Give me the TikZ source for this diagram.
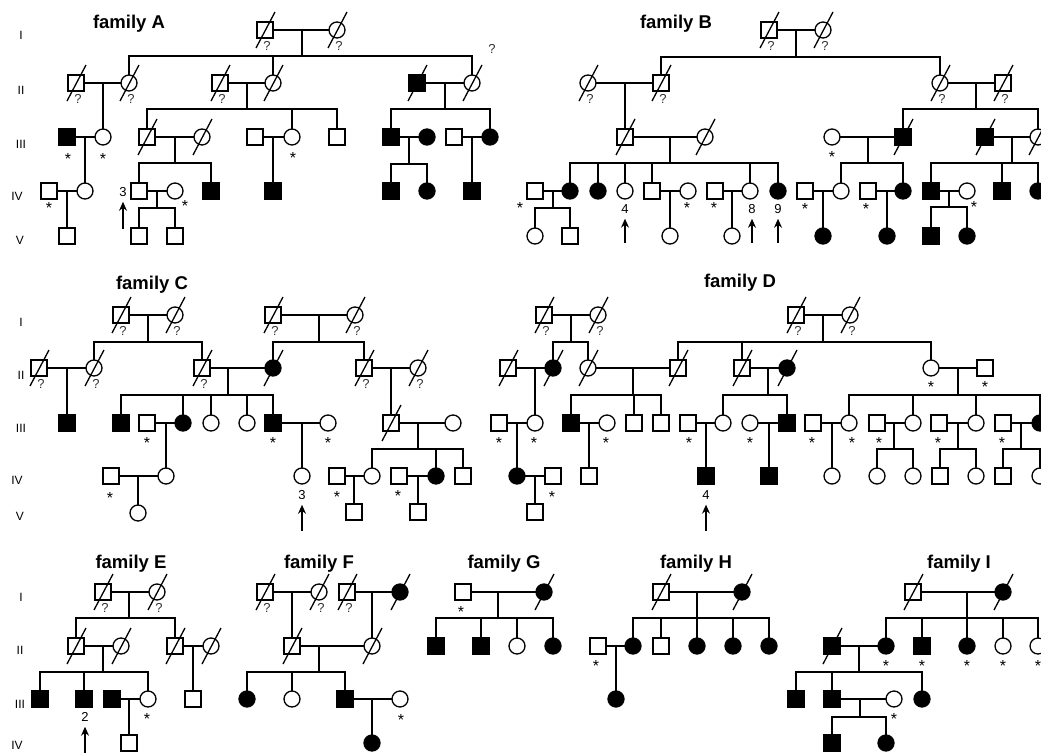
\documentclass[tikz,border=0pt]{standalone}
\usepackage{fontspec}
\setmainfont{Liberation Sans}
\usetikzlibrary{arrows.meta}
\tikzset{
 lw/.style={line width=1.3pt},
 sym/.style={draw, lw, minimum size=16pt, inner sep=0pt, outer sep=0pt},
 M/.style={sym, rectangle},
 F/.style={sym, circle},
 A/.style={fill=black},
 qm/.style={font=\fontsize{13}{13}\selectfont, text=black!80, inner sep=0pt},
 ast/.style={font=\fontsize{16}{16}\selectfont, inner sep=0pt},
 gen/.style={font=\fontsize{12}{12}\selectfont, inner sep=0pt},
 ttl/.style={font=\bfseries\fontsize{18.5}{18.5}\selectfont, anchor=base, inner sep=0pt},
 num/.style={font=\fontsize{13}{13}\selectfont, inner sep=0pt},
 arr/.style={lw, -{Stealth[length=9pt,width=8pt]}, shorten >=5pt},
 con/.style={lw},
}
\newcommand\dead[1]{\draw[lw] ([shift={(-9,18)}]#1.center) -- ([shift={(10,-18)}]#1.center);}
\newcommand\unk[1]{\node[qm] (#1q) at ([shift={(2,16)}]#1.center) {?};}
\newcommand\st[3]{\node[ast] (#1s) at ([shift={(#2,{#3+0.5})}]#1.center) {*};}
\newcommand\kids[3]{\draw[con] (#1) -- (#2); \foreach \kd in {#3}{\draw[con] (\kd.north) |- (#2);}}
\newcommand\kid[2]{\draw[con] (#1) -- (#1 |- #2.north);}
\begin{document}
\begin{tikzpicture}[x=1pt,y=-1pt]
\useasboundingbox (0,0) rectangle (1041,752);
\clip (0,0) rectangle (1041,752);
% generation labels
\node[gen] (r1a) at (21,35) {I};
\node[gen] (r1b) at (21,90) {II};
\node[gen] (r1c) at (21,144) {III};
\node[gen] (r1d) at (17,196) {IV};
\node[gen] (r1e) at (20,240) {V};
\node[gen] (r2a) at (21,322) {I};
\node[gen] (r2b) at (21,375) {II};
\node[gen] (r2c) at (21,428) {III};
\node[gen] (r2d) at (17,480) {IV};
\node[gen] (r2e) at (20,516) {V};
\node[gen] (r3a) at (21,597) {I};
\node[gen] (r3b) at (20,650) {II};
\node[gen] (r3c) at (20,704) {III};
\node[gen] (r3d) at (17,745) {IV};
% titles
\node[ttl] (tA) at (129,29) {family A};
\node[ttl] (tB) at (676,29) {family B};
\node[ttl] (tC) at (152,289) {family C};
\node[ttl] (tD) at (740,287) {family D};
\node[ttl] (tE) at (131,568) {family E};
\node[ttl] (tF) at (319,568) {family F};
\node[ttl] (tG) at (504,568) {family G};
\node[ttl] (tH) at (696,568) {family H};
\node[ttl] (tI) at (959,568) {family I};

%%%%%%%%%%%%%%%% family A
\node[M] (a1) at (265,30) {}; \node[F] (a2) at (337,30) {};
\node[M] (a3) at (76,83) {}; \node[F] (a4) at (129,83) {};
\node[M] (a5) at (220,83) {}; \node[F] (a6) at (273,83) {};
\node[M,A] (a7) at (417,83) {}; \node[F] (a8) at (472,83) {};
\node[M,A] (a9) at (67,137) {}; \node[F] (a10) at (103,137) {};
\node[M] (a14) at (147,137) {}; \node[F] (a15) at (202,137) {};
\node[M] (a23) at (255,137) {}; \node[F] (a18) at (292,137) {};
\node[M] (a19) at (337,137) {};
\node[M,A] (a25) at (391,137) {}; \node[F,A] (a26) at (427,137) {};
\node[M] (a27) at (454,137) {}; \node[F,A] (a28) at (490,137) {};
\node[M] (a11) at (49,191) {}; \node[F] (a12) at (85,191) {};
\node[M] (a16) at (139,191) {}; \node[F] (a20) at (175,191) {};
\node[M,A] (a17) at (211,191) {};
\node[M,A] (a24) at (273,191) {};
\node[M,A] (a29) at (391,191) {}; \node[F,A] (a30) at (427,191) {};
\node[M,A] (a31) at (472,191) {};
\node[M] (a13) at (67,236) {};
\node[M] (a21) at (139,236) {}; \node[M] (a22) at (175,236) {};
\foreach \n in {a1,a2,a3,a4,a5,a6,a7,a8,a14,a15} {\dead{\n}}
\foreach \n in {a1,a2,a3,a4,a5} {\unk{\n}}
\node[qm] (aq) at (492,49) {?};
\draw[con] (a1)--(a2); \coordinate (ma1) at (302,30); \coordinate (sa1) at (302,56); \kids{ma1}{sa1}{a4,a6,a8}
\draw[con] (a3)--(a4); \coordinate (ma2) at (103,83); \kid{ma2}{a10}
\draw[con] (a5)--(a6); \coordinate (ma3) at (247,83); \coordinate (sa3) at (247,109); \kids{ma3}{sa3}{a14,a18,a19}
\draw[con] (a7)--(a8); \coordinate (ma4) at (445,83); \coordinate (sa4) at (445,109); \kids{ma4}{sa4}{a25,a28}
\draw[con] (a9)--(a10); \coordinate (ma5) at (85,137); \kid{ma5}{a12}
\draw[con] (a14)--(a15); \coordinate (ma6) at (175,137); \coordinate (sa6) at (175,163); \kids{ma6}{sa6}{a16,a17}
\draw[con] (a23)--(a18); \coordinate (ma7) at (273,137); \kid{ma7}{a24}
\draw[con] (a25)--(a26); \coordinate (ma8) at (409,137); \coordinate (sa8) at (409,164); \kids{ma8}{sa8}{a29,a30}
\draw[con] (a27)--(a28); \coordinate (ma9) at (472,137); \kid{ma9}{a31}
\draw[con] (a11)--(a12); \coordinate (ma10) at (67,191); \kid{ma10}{a13}
\draw[con] (a16)--(a20); \coordinate (ma11) at (157,191); \coordinate (sa11) at (157,208); \kids{ma11}{sa11}{a21,a22}
\st{a9}{1}{21} \st{a10}{0}{21} \st{a11}{0}{16} \st{a20}{10}{14} \st{a18}{1}{20}
\node[num] (la) at (123,192) {3}; \coordinate (ta) at (123,229); \draw[arr] (ta) -- (la);

%%%%%%%%%%%%%%%% family B
\node[M] (b1) at (769,30) {}; \node[F] (b2) at (823,30) {};
\node[F] (b3) at (588,83) {}; \node[M] (b4) at (661,83) {};
\node[F] (b5) at (940,83) {}; \node[M] (b21) at (1003,83) {};
\node[M] (b6) at (625,137) {}; \node[F] (b7) at (705,137) {};
\node[F] (b23) at (832,137) {}; \node[M,A] (b22) at (903,137) {};
\node[M,A] (b25) at (985,137) {}; \node[F] (b24) at (1038,137) {};
\node[M] (b8) at (535,191) {}; \node[F,A] (b9) at (570,191) {}; \node[F,A] (b10) at (598,191) {};
\node[F] (b11) at (625,191) {}; \node[M] (b12) at (652,191) {}; \node[F] (b13) at (688,191) {};
\node[M] (b19) at (715,191) {}; \node[F] (b14) at (750,191) {}; \node[F,A] (b15) at (778,191) {};
\node[M] (b28) at (805,191) {}; \node[F] (b26) at (841,191) {}; \node[M] (b29) at (868,191) {}; \node[F,A] (b27) at (903,191) {};
\node[M,A] (b32) at (931,191) {}; \node[F] (b33) at (967,191) {}; \node[M,A] (b34) at (1002,191) {}; \node[F,A] (b35) at (1038,191) {};
\node[F] (b16) at (535,236) {}; \node[M] (b17) at (570,236) {}; \node[F] (b18) at (670,236) {}; \node[F] (b20) at (732,236) {};
\node[F,A] (b30) at (823,236) {}; \node[F,A] (b31) at (887,236) {}; \node[M,A] (b36) at (931,236) {}; \node[F,A] (b37) at (967,236) {};
\foreach \n in {b1,b2,b3,b4,b5,b21,b6,b7,b22,b25,b24} {\dead{\n}}
\foreach \n in {b1,b2,b3,b4,b5,b21} {\unk{\n}}
\draw[con] (b1)--(b2); \coordinate (mb1) at (796,30); \coordinate (sb1) at (796,57); \kids{mb1}{sb1}{b4,b5}
\draw[con] (b3)--(b4); \coordinate (mb2) at (625,83); \kid{mb2}{b6}
\draw[con] (b6)--(b7); \coordinate (mb3) at (670,137); \coordinate (sb3) at (670,163); \kids{mb3}{sb3}{b9,b10,b11,b12,b14,b15}
\draw[con] (b8)--(b9); \coordinate (mb4) at (553,191); \coordinate (sb4) at (553,208); \kids{mb4}{sb4}{b16,b17}
\draw[con] (b12)--(b13); \coordinate (mb5) at (670,191); \kid{mb5}{b18}
\draw[con] (b19)--(b14); \coordinate (mb6) at (732,191); \kid{mb6}{b20}
\draw[con] (b5)--(b21); \coordinate (mb7) at (976,83); \coordinate (sb7) at (976,109); \kids{mb7}{sb7}{b22,b24}
\draw[con] (b23)--(b22); \coordinate (mb8) at (868,137); \coordinate (sb8) at (868,163); \kids{mb8}{sb8}{b26,b27}
\draw[con] (b28)--(b26); \coordinate (mb9) at (823,191); \kid{mb9}{b30}
\draw[con] (b29)--(b27); \coordinate (mb10) at (887,191); \kid{mb10}{b31}
\draw[con] (b25)--(b24); \coordinate (mb11) at (1012,137); \coordinate (sb11) at (1012,163); \kids{mb11}{sb11}{b32,b34,b35}
\draw[con] (b32)--(b33); \coordinate (mb12) at (949,191); \coordinate (sb12) at (949,207); \kids{mb12}{sb12}{b36,b37}
\st{b8}{-15}{16} \st{b13}{-1}{16} \st{b19}{-1}{16} \st{b23}{0}{19} \st{b28}{0}{17} \st{b29}{-2}{17} \st{b33}{7}{15}
\node[num] (lb4) at (625,209) {4}; \coordinate (tb4) at (625,243); \draw[arr] (tb4) -- (lb4);
\node[num] (lb8) at (752,209) {8}; \coordinate (tb8) at (752,243); \draw[arr] (tb8) -- (lb8);
\node[num] (lb9) at (778,209) {9}; \coordinate (tb9) at (778,243); \draw[arr] (tb9) -- (lb9);

%%%%%%%%%%%%%%%% family C
\node[M] (c1) at (121,315) {}; \node[F] (c2) at (175,315) {};
\node[M] (c5) at (273,315) {}; \node[F] (c5b) at (355,315) {};
\node[M] (c3) at (39,368) {}; \node[F] (c4) at (94,368) {};
\node[M] (c6) at (202,368) {}; \node[F,A] (c8) at (273,368) {};
\node[M] (c16) at (364,368) {}; \node[F] (c17) at (418,368) {};
\node[M,A] (c7) at (67,423) {}; \node[M,A] (c9) at (121,423) {}; \node[M] (c10) at (147,423) {};
\node[F,A] (c11) at (183,423) {}; \node[F] (c12) at (211,423) {}; \node[F] (c13) at (247,423) {};
\node[M,A] (c14) at (273,423) {}; \node[F] (c15) at (328,423) {}; \node[M] (c18) at (391,423) {}; \node[F] (c23) at (453,423) {};
\node[M] (c19) at (111,476) {}; \node[F] (c20) at (166,476) {}; \node[F] (c22) at (302,476) {};
\node[M] (c25) at (337,476) {}; \node[F] (c24) at (372,476) {}; \node[M] (c29) at (399,476) {}; \node[F,A] (c26) at (436,476) {}; \node[M] (c27) at (463,476) {};
\node[F] (c21) at (138,513) {}; \node[M] (c28) at (354,512) {}; \node[M] (c30) at (418,512) {};
\foreach \n in {c1,c2,c5,c5b,c3,c4,c6,c8,c16,c17,c18} {\dead{\n}}
\foreach \n in {c1,c2,c5,c5b,c3,c4,c6,c16,c17} {\unk{\n}}
\draw[con] (c1)--(c2); \coordinate (mc1) at (148,315); \coordinate (sc1) at (148,342); \kids{mc1}{sc1}{c4,c6}
\draw[con] (c5)--(c5b); \coordinate (mc2) at (319,315); \coordinate (sc2) at (319,342); \kids{mc2}{sc2}{c8,c16}
\draw[con] (c3)--(c4); \coordinate (mc3) at (67,368); \kid{mc3}{c7}
\draw[con] (c6)--(c8); \coordinate (mc4) at (228,368); \coordinate (sc4) at (228,395); \kids{mc4}{sc4}{c9,c11,c12,c13,c14}
\draw[con] (c16)--(c17); \coordinate (mc5) at (391,368); \kid{mc5}{c18}
\draw[con] (c10)--(c11); \coordinate (mc6) at (166,423); \kid{mc6}{c20}
\draw[con] (c14)--(c15); \coordinate (mc7) at (302,423); \kid{mc7}{c22}
\draw[con] (c18)--(c23); \coordinate (mc8) at (418,423); \coordinate (sc8) at (418,449); \kids{mc8}{sc8}{c24,c26,c27}
\draw[con] (c19)--(c20); \coordinate (mc9) at (138,476); \kid{mc9}{c21}
\draw[con] (c25)--(c24); \coordinate (mc10) at (354,476); \kid{mc10}{c28}
\draw[con] (c29)--(c26); \coordinate (mc11) at (418,476); \kid{mc11}{c30}
\st{c10}{0}{19} \st{c14}{0}{19} \st{c15}{0}{19} \st{c19}{-1}{21} \st{c25}{0}{20} \st{c29}{-1}{19}
\node[num] (lc) at (302,495) {3}; \coordinate (tc) at (302,531); \draw[arr] (tc) -- (lc);

%%%%%%%%%%%%%%%% family D
\node[M] (d1) at (544,315) {}; \node[F] (d2) at (598,315) {};
\node[M] (d8) at (796,315) {}; \node[F] (d9) at (850,315) {};
\node[M] (d3) at (508,368) {}; \node[F,A] (d4) at (553,368) {}; \node[F] (d5) at (588,368) {}; \node[M] (d6) at (678,368) {};
\node[M] (d10) at (742,368) {}; \node[F,A] (d11) at (787,368) {}; \node[F] (d12) at (931,368) {}; \node[M] (d28) at (985,368) {};
\node[M] (d13) at (499,423) {}; \node[F] (d7) at (535,423) {}; \node[M,A] (d14) at (571,423) {}; \node[F] (d15) at (607,423) {};
\node[M] (d16) at (634,423) {}; \node[M] (d17) at (661,423) {}; \node[M] (d22) at (688,423) {}; \node[F] (d23) at (723,423) {};
\node[F] (d24) at (750,423) {}; \node[M,A] (d25) at (787,423) {}; \node[M] (d29) at (813,423) {}; \node[F] (d30) at (849,423) {};
\node[M] (d31) at (877,423) {}; \node[F] (d32) at (913,423) {}; \node[M] (d33) at (939,423) {}; \node[F] (d34) at (976,423) {};
\node[M] (d35) at (1003,423) {}; \node[F,A] (d36) at (1040,423) {};
\node[F,A] (d19) at (517,476) {}; \node[M] (d20) at (553,476) {}; \node[M] (d18) at (589,476) {}; \node[M,A] (d26) at (706,476) {};
\node[M,A] (d27) at (769,476) {}; \node[F] (d37) at (832,476) {}; \node[F] (d38) at (877,476) {}; \node[F] (d39) at (913,476) {};
\node[M] (d40) at (940,476) {}; \node[F] (d41) at (976,476) {}; \node[M] (d42) at (1003,476) {}; \node[F] (d43) at (1040,476) {};
\node[M] (d21) at (535,512) {};
\foreach \n in {d1,d2,d8,d9,d3,d4,d5,d6,d10,d11} {\dead{\n}}
\foreach \n in {d1,d2,d8,d9} {\unk{\n}}
\draw[con] (d1)--(d2); \coordinate (md1) at (571,315); \coordinate (sd1) at (571,342); \kids{md1}{sd1}{d4,d5}
\draw[con] (d8)--(d9); \coordinate (md2) at (823,315); \coordinate (sd2) at (823,342); \kids{md2}{sd2}{d6,d10,d12}
\draw[con] (d3)--(d4); \coordinate (md3) at (535,368); \kid{md3}{d7}
\draw[con] (d5)--(d6); \coordinate (md4) at (633,368); \coordinate (sd4) at (633,395); \kids{md4}{sd4}{d14,d16,d17}
\draw[con] (d10)--(d11); \coordinate (md5) at (768,368); \coordinate (sd5) at (768,395); \kids{md5}{sd5}{d23,d25}
\draw[con] (d12)--(d28); \coordinate (md6) at (958,368); \coordinate (sd6) at (958,395); \kids{md6}{sd6}{d30,d32,d34,d36}
\draw[con] (d13)--(d7); \coordinate (md7) at (517,423); \kid{md7}{d19}
\draw[con] (d14)--(d15); \coordinate (md8) at (589,423); \kid{md8}{d18}
\draw[con] (d22)--(d23); \coordinate (md9) at (706,423); \kid{md9}{d26}
\draw[con] (d24)--(d25); \coordinate (md10) at (769,423); \kid{md10}{d27}
\draw[con] (d29)--(d30); \coordinate (md11) at (832,423); \kid{md11}{d37}
\draw[con] (d31)--(d32); \coordinate (md12) at (894,423); \coordinate (sd12) at (894,449); \kids{md12}{sd12}{d38,d39}
\draw[con] (d33)--(d34); \coordinate (md13) at (958,423); \coordinate (sd13) at (958,449); \kids{md13}{sd13}{d40,d41}
\draw[con] (d35)--(d36); \coordinate (md14) at (1021,423); \coordinate (sd14) at (1021,449); \kids{md14}{sd14}{d42,d43}
\draw[con] (d19)--(d20); \coordinate (md15) at (535,476); \kid{md15}{d21}
\st{d13}{0}{19} \st{d7}{-1}{19} \st{d15}{-1}{19} \st{d20}{-1}{20} \st{d22}{1}{19} \st{d24}{0}{19}
\st{d12}{0}{18} \st{d28}{0}{18} \st{d29}{-1}{19} \st{d30}{3}{19} \st{d31}{2}{19} \st{d33}{-1}{19} \st{d35}{-1}{19}
\node[num] (ld) at (706,495) {4}; \coordinate (td) at (706,531); \draw[arr] (td) -- (ld);

%%%%%%%%%%%%%%%% family E
\node[M] (e1) at (103,592) {}; \node[F] (e2) at (157,592) {};
\node[M] (e3) at (76,646) {}; \node[F] (e4) at (121,646) {}; \node[M] (e5) at (175,646) {}; \node[F] (e6) at (211,646) {};
\node[M,A] (e7) at (40,699) {}; \node[M,A] (e8) at (84,699) {}; \node[M,A] (e9) at (112,699) {}; \node[F] (e10) at (148,699) {}; \node[M] (e12) at (193,699) {};
\node[M] (e11) at (129,743) {};
\foreach \n in {e1,e2,e3,e4,e5,e6} {\dead{\n}}
\foreach \n in {e1,e2} {\unk{\n}}
\draw[con] (e1)--(e2); \coordinate (me1) at (129,592); \coordinate (se1) at (129,618); \kids{me1}{se1}{e3,e5}
\draw[con] (e3)--(e4); \coordinate (me2) at (103,646); \coordinate (se2) at (103,672); \kids{me2}{se2}{e7,e8,e10}
\draw[con] (e5)--(e6); \coordinate (me3) at (193,646); \kid{me3}{e12}
\draw[con] (e9)--(e10); \coordinate (me4) at (129,699); \kid{me4}{e11}
\st{e10}{-1}{19}
\node[num] (le) at (85,717) {2}; \coordinate (te) at (85,760); \draw[arr] (te) -- (le);

%%%%%%%%%%%%%%%% family F
\node[M] (f1) at (265,592) {}; \node[F] (f2) at (319,592) {}; \node[M] (f3) at (347,592) {}; \node[F,A] (f3b) at (400,592) {};
\node[M] (f4) at (292,646) {}; \node[F] (f5) at (372,646) {};
\node[F,A] (f6) at (247,699) {}; \node[F] (f7) at (292,699) {}; \node[M,A] (f8) at (345,699) {}; \node[F] (f9) at (400,699) {};
\node[F,A] (f10) at (372,743) {};
\foreach \n in {f1,f2,f3,f3b,f4,f5} {\dead{\n}}
\foreach \n in {f1,f2,f3} {\unk{\n}}
\draw[con] (f1)--(f2); \coordinate (mf1) at (292,592); \kid{mf1}{f4}
\draw[con] (f3)--(f3b); \coordinate (mf2) at (372,592); \kid{mf2}{f5}
\draw[con] (f4)--(f5); \coordinate (mf3) at (319,646); \coordinate (sf3) at (319,672); \kids{mf3}{sf3}{f6,f7,f8}
\draw[con] (f8)--(f9); \coordinate (mf4) at (372,699); \kid{mf4}{f10}
\st{f9}{1}{20}

%%%%%%%%%%%%%%%% family G
\node[M] (g1) at (463,592) {}; \node[F,A] (g2) at (544,592) {};
\node[M,A] (g3) at (436,646) {}; \node[M,A] (g4) at (481,646) {}; \node[F] (g5) at (517,646) {}; \node[F,A] (g6) at (553,646) {};
\dead{g2}
\draw[con] (g1)--(g2); \coordinate (mg1) at (498,592); \coordinate (sg1) at (498,618); \kids{mg1}{sg1}{g3,g4,g5,g6}
\st{g1}{-2}{19}

%%%%%%%%%%%%%%%% family H
\node[M] (h1) at (661,592) {}; \node[F,A] (h2) at (742,592) {};
\node[M] (h3) at (598,646) {}; \node[F,A] (h4) at (633,646) {}; \node[M] (h5) at (661,646) {};
\node[F,A] (h6) at (697,646) {}; \node[F,A] (h7) at (733,646) {}; \node[F,A] (h8) at (769,646) {};
\node[F,A] (h9) at (616,699) {};
\dead{h1} \dead{h2}
\draw[con] (h1)--(h2); \coordinate (mh1) at (697,592); \coordinate (sh1) at (697,618); \kids{mh1}{sh1}{h4,h5,h6,h7,h8}
\draw[con] (h3)--(h4); \coordinate (mh2) at (616,646); \kid{mh2}{h9}
\st{h3}{-2}{19}

%%%%%%%%%%%%%%%% family I
\node[M] (i1) at (913,592) {}; \node[F,A] (i2) at (1003,592) {};
\node[M,A] (i3) at (832,646) {}; \node[F,A] (i4) at (886,646) {}; \node[M,A] (i5) at (922,646) {};
\node[F,A] (i6) at (967,646) {}; \node[F] (i7) at (1003,646) {}; \node[F] (i8) at (1038,646) {};
\node[M,A] (i9) at (796,699) {}; \node[M,A] (i10) at (832,699) {}; \node[F] (i11) at (894,699) {}; \node[F,A] (i12) at (922,699) {};
\node[M,A] (i13) at (832,743) {}; \node[F,A] (i14) at (886,743) {};
\dead{i1} \dead{i2} \dead{i3}
\draw[con] (i1)--(i2); \coordinate (mi1) at (967,592); \coordinate (si1) at (967,618); \kids{mi1}{si1}{i4,i5,i6,i7,i8}
\draw[con] (i3)--(i4); \coordinate (mi2) at (859,646); \coordinate (si2) at (859,672); \kids{mi2}{si2}{i9,i10,i12}
\draw[con] (i10)--(i11); \coordinate (mi3) at (860,699); \coordinate (si3) at (860,717); \kids{mi3}{si3}{i13,i14}
\foreach \n in {i4,i5,i6,i7,i8,i11} {\st{\n}{0}{19}}
\end{tikzpicture}
\end{document}
